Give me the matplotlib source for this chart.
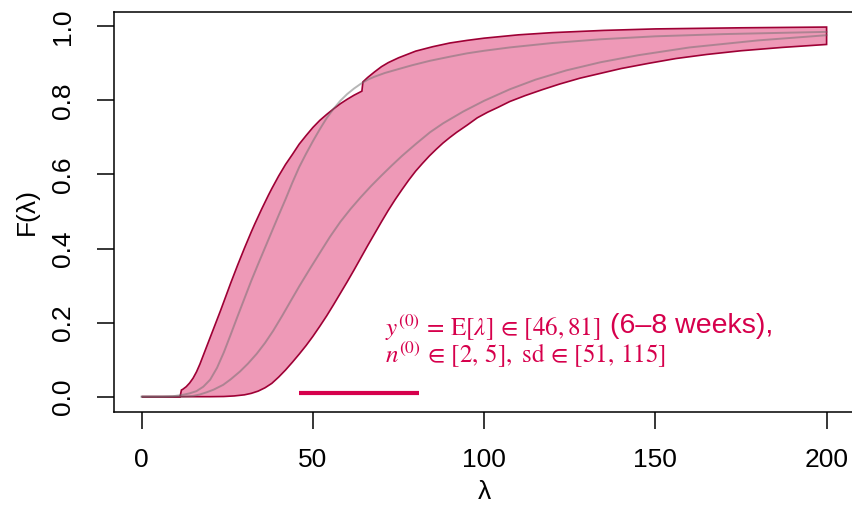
"""
Banda de CDFs a priori F(lambda) (conjunto de priors), con CDFs de ejemplo en gris.
Genera out.png.
"""
import matplotlib
matplotlib.use("Agg")
import matplotlib.pyplot as plt

# Envolvente superior (lambda, F)
UPPER_X = [0, 11.2, 11.6, 12, 13, 14, 15, 16, 17, 18, 19, 20, 21, 22, 23, 24, 25, 26, 27, 28,
           29, 30, 31, 32, 33, 34, 35, 36, 37, 38, 40, 42, 44, 46, 48, 50, 52, 54, 56, 58, 60,
           62, 64.3, 64.6, 66, 68, 70, 72, 75, 80, 85, 90, 95, 100, 110, 120, 135, 150, 175, 200]
UPPER_F = [0, 0.0, 0.018, 0.020, 0.027, 0.037, 0.050, 0.067, 0.088, 0.112, 0.136, 0.160, 0.184,
           0.208, 0.232, 0.257, 0.282, 0.307, 0.331, 0.355, 0.378, 0.401, 0.423, 0.445, 0.466,
           0.486, 0.506, 0.525, 0.544, 0.562, 0.596, 0.627, 0.654, 0.682, 0.705, 0.727, 0.746,
           0.762, 0.777, 0.791, 0.803, 0.814, 0.825, 0.850, 0.862, 0.877, 0.891, 0.902, 0.915,
           0.933, 0.945, 0.955, 0.962, 0.968, 0.977, 0.983, 0.989, 0.993, 0.996, 0.998]

# Envolvente inferior
LOWER_X = [0, 20, 24, 27, 30, 32, 34, 36, 38, 40, 42, 44, 46, 48, 50, 52, 54, 56, 58, 60, 62,
           64, 66, 68, 70, 72, 74, 76, 78, 80, 82, 84, 86, 88, 90, 92, 95, 98, 101, 104, 107.5,
           112, 117, 122, 128, 134, 140, 148, 156, 165, 175, 187, 200]
LOWER_F = [0, 0.0, 0.0005, 0.002, 0.005, 0.009, 0.015, 0.024, 0.036, 0.053, 0.072, 0.093, 0.115,
           0.138, 0.163, 0.190, 0.218, 0.248, 0.279, 0.310, 0.342, 0.375, 0.408, 0.440, 0.472,
           0.503, 0.532, 0.559, 0.585, 0.609, 0.630, 0.650, 0.668, 0.685, 0.700, 0.714, 0.733,
           0.753, 0.768, 0.781, 0.797, 0.813, 0.829, 0.844, 0.860, 0.873, 0.886, 0.900, 0.913,
           0.924, 0.934, 0.943, 0.951]

# CDF gris 1 (más empinada)
GRAY1_X = [0, 6, 9, 12, 14, 16, 18, 20, 22, 24, 26, 28, 30, 32, 34, 36, 38, 40, 42, 44, 46, 48,
           50, 52, 54, 56, 58, 60, 62, 64, 66, 68, 71, 74.4, 79, 84.2, 90, 95, 100, 107.5, 120,
           134, 150, 170, 200]
GRAY1_F = [0, 0.0, 0.001, 0.005, 0.009, 0.015, 0.027, 0.046, 0.078, 0.120, 0.168, 0.217, 0.265,
           0.313, 0.358, 0.402, 0.446, 0.490, 0.533, 0.578, 0.620, 0.656, 0.690, 0.722, 0.752,
           0.777, 0.799, 0.817, 0.832, 0.845, 0.856, 0.864, 0.874, 0.883, 0.895, 0.907, 0.918,
           0.927, 0.934, 0.943, 0.955, 0.965, 0.973, 0.979, 0.985]

# CDF gris 2
GRAY2_X = [0, 12, 15, 17, 19, 21, 23.8, 26, 28.7, 31, 33.6, 36, 38.4, 41, 43.3, 46, 49.1, 52, 55,
           58, 61, 64, 67, 70, 73, 76, 80, 84.2, 88, 93.9, 100, 107.5, 115, 124, 134, 145, 160,
           180, 200]
GRAY2_F = [0, 0.0, 0.002, 0.006, 0.012, 0.019, 0.032, 0.047, 0.068, 0.089, 0.116, 0.145, 0.178,
           0.218, 0.255, 0.298, 0.345, 0.388, 0.432, 0.472, 0.507, 0.539, 0.569, 0.597, 0.624,
           0.650, 0.682, 0.714, 0.738, 0.770, 0.799, 0.830, 0.856, 0.881, 0.903, 0.922, 0.943,
           0.962, 0.976]

# Intervalo E[lambda] a priori
Y0_RANGE = [46, 81]
SEG_F = 0.01

X_TICKS = [0, 50, 100, 150, 200]
Y_TICKS = [0.0, 0.2, 0.4, 0.6, 0.8, 1.0]

COL_MAIN = "#D6004C"
COL_EDGE = "#9E0035"
COL_GRAY = "#6E6E6E"

plt.rcParams["font.family"] = ["Liberation Sans", "DejaVu Sans"]
plt.rcParams["mathtext.fontset"] = "stix"

W, H = 853, 509
fig = plt.figure(figsize=(W / 100, H / 100), dpi=100)
ax = fig.add_axes([114.3 / W, 1 - 411.5 / H, (854 - 114.3) / W, 400 / H])

# Banda: polígono entre envolventes
poly_x = UPPER_X + LOWER_X[::-1]
poly_f = UPPER_F + LOWER_F[::-1]
ax.fill(poly_x, poly_f, color=COL_MAIN, alpha=0.4, lw=0)
ax.plot(GRAY1_X, GRAY1_F, color=COL_GRAY, alpha=0.5, lw=1.4)
ax.plot(GRAY2_X, GRAY2_F, color=COL_GRAY, alpha=0.5, lw=1.4)
ax.fill(poly_x, poly_f, facecolor="none", edgecolor=COL_EDGE, lw=1.2)

ax.plot(Y0_RANGE, [SEG_F, SEG_F], color=COL_MAIN, lw=3, solid_capstyle="butt")

# Texto: parte matemática en serif, "(6–8 weeks)," en sans, pegado a la derecha
t1 = ax.text(71.0, 0.165, r"$y^{(0)} \,=\, \mathrm{E}[\lambda] \,\in\, [46, 81]$",
             color=COL_MAIN, fontsize=18, ha="left", va="baseline")
ax.text(71.0, 0.09, r"$n^{(0)} \,\in\, [2,\,5],\ \mathrm{sd} \,\in\, [51,\,115]$",
        color=COL_MAIN, fontsize=18, ha="left", va="baseline")
fig.canvas.draw()
bb = t1.get_window_extent()
x_fig = (bb.x1 + 8) / W
y_fig = ax.transData.transform((71.0, 0.165))[1] / H
fig.text(x_fig, y_fig, "(6–8 weeks),", color=COL_MAIN, fontsize=20.5,
         ha="left", va="baseline")

ax.set_xlim(-8, 208)
ax.set_ylim(-0.04, 1.04)
ax.set_xticks(X_TICKS)
ax.set_xticklabels([str(t) for t in X_TICKS])
ax.set_yticks(Y_TICKS)
ax.set_yticklabels(["%.1f" % t for t in Y_TICKS], rotation=90, va="center")
ax.tick_params(length=12, width=1.1, labelsize=19)
ax.tick_params(axis="x", pad=14)
ax.tick_params(axis="y", pad=16)
for s in ax.spines.values():
    s.set_linewidth(1.1)

ax.set_xlabel("λ", fontsize=19, labelpad=6)
ax.set_ylabel("F(λ)", fontsize=19, labelpad=9)

fig.savefig("out.png", dpi=100)
